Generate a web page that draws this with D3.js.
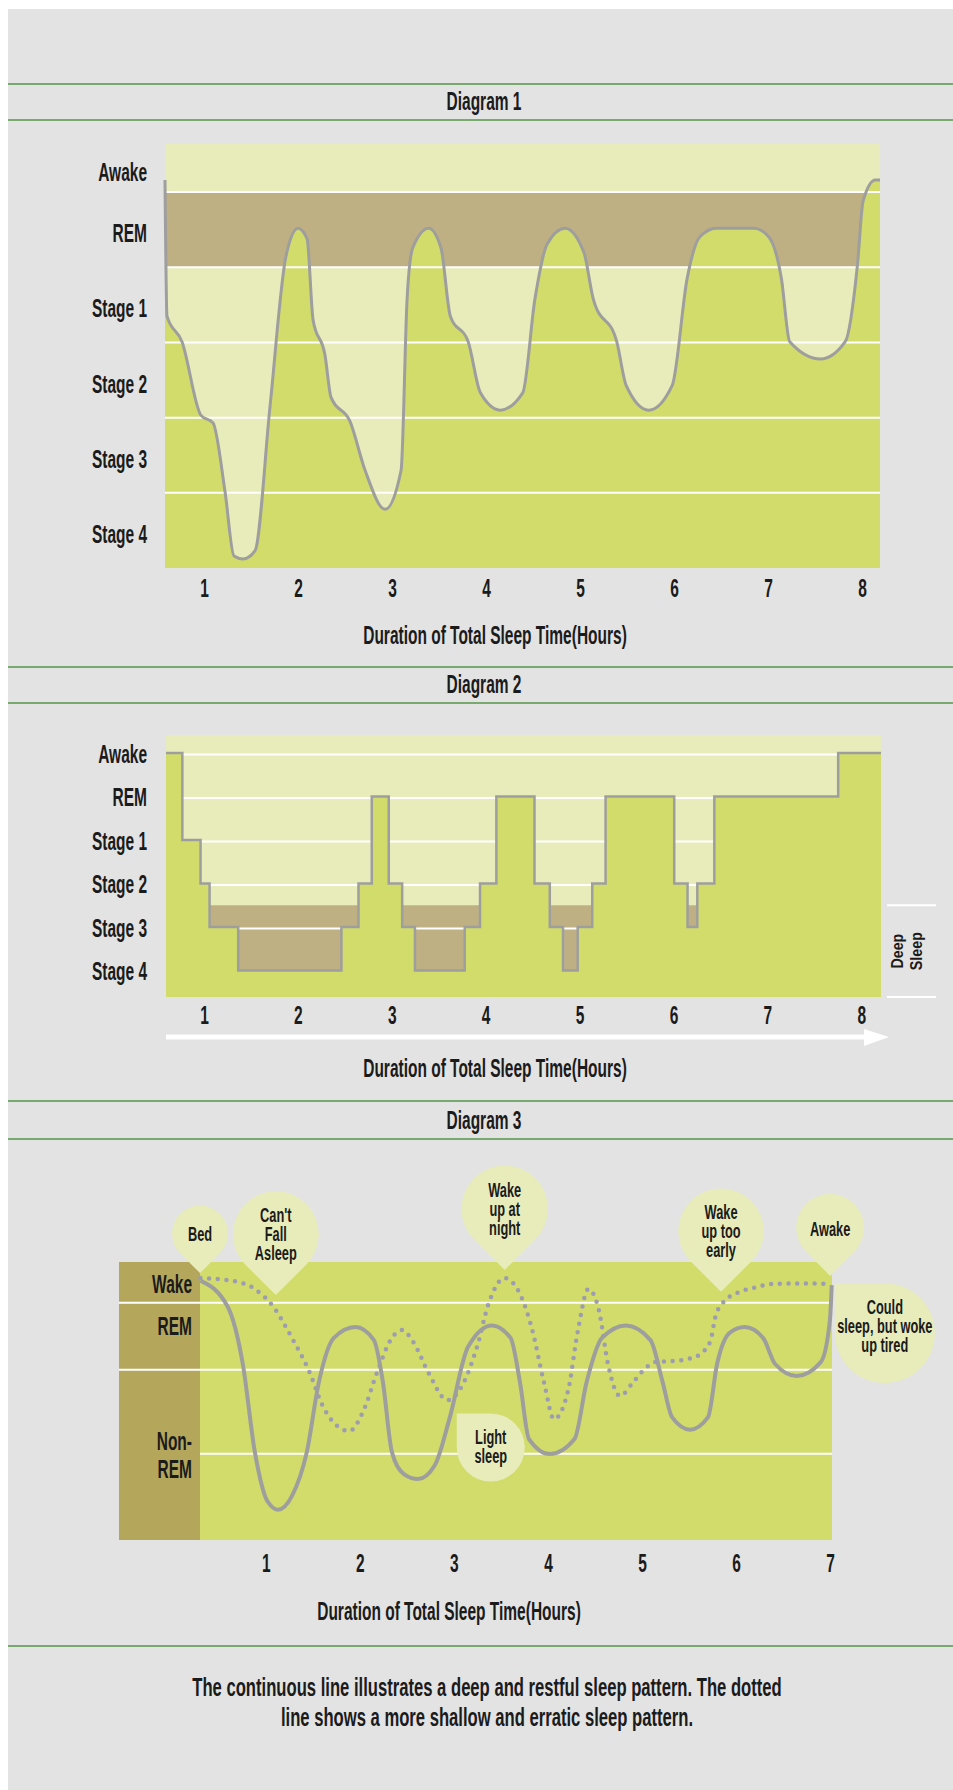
<!DOCTYPE html>
<html>
<head>
<meta charset="utf-8">
<title>Sleep patterns</title>
<script src="https://cdn.jsdelivr.net/npm/d3@7"></script>
<style>
  body { margin: 0; background: #fff; }
  svg { display: block; font-family: "Liberation Sans", Arial, sans-serif; font-weight: bold; }
</style>
</head>
<body>
<div id="container"></div>
<script>
// shared
const stages = ["Awake", "REM", "Stage 1", "Stage 2", "Stage 3", "Stage 4"];
const hourTicks8 = [1, 2, 3, 4, 5, 6, 7, 8];
const hourTicks7 = [1, 2, 3, 4, 5, 6, 7];
const axisTitle = "Duration of Total Sleep Time(Hours)";

// diagram 1: smooth hypnogram, depth 0 = top of REM band ... 5 = bottom of Stage 4
const d1Hours = [0.585, 0.606, 0.766, 0.968, 1.096, 1.223, 1.319, 1.415, 1.543, 1.702, 1.872, 2.0, 2.096, 2.16, 2.287, 2.351, 2.553, 2.713, 2.926, 3.096, 3.16, 3.22, 3.39, 3.52, 3.62, 3.81, 3.94, 4.15, 4.39, 4.52, 4.65, 4.84, 5.04, 5.14, 5.39, 5.49, 5.73, 5.98, 6.14, 6.27, 6.45, 6.85, 7.01, 7.14, 7.23, 7.56, 7.82, 7.95, 8.01, 8.14, 8.19];
const d1Depth = [-0.16, 1.65, 1.99, 2.97, 3.07, 3.98, 4.84, 4.88, 4.77, 2.85, 0.85, 0.48, 0.62, 1.70, 2.17, 2.73, 3.05, 3.70, 4.22, 3.70, 1.42, 0.74, 0.48, 0.74, 1.65, 1.99, 2.67, 2.90, 2.67, 1.42, 0.69, 0.48, 0.80, 1.42, 1.99, 2.57, 2.90, 2.57, 1.14, 0.60, 0.48, 0.48, 0.60, 1.14, 1.99, 2.22, 1.99, 0.97, 0.12, -0.16, -0.16];

// diagram 2: stepped hypnogram, each entry starts a new stage
const d2Hours = [0.596, 0.77, 0.964, 1.06, 1.365, 2.464, 2.646, 2.787, 2.968, 3.111, 3.247, 3.777, 3.94, 4.114, 4.52, 4.683, 4.824, 4.98, 5.135, 5.277, 6.008, 6.15, 6.254, 6.435, 7.754, 8.21];
const d2Stage = ["Awake", "Stage 1", "Stage 2", "Stage 3", "Stage 4", "Stage 3", "Stage 2", "REM", "Stage 2", "Stage 3", "Stage 4", "Stage 3", "Stage 2", "REM", "Stage 2", "Stage 3", "Stage 4", "Stage 3", "Stage 2", "REM", "Stage 2", "Stage 3", "Stage 2", "REM", "Awake", "Awake"];

// diagram 3: depth 0 (top) .. 10 (bottom)
const restfulHours = [0.304, 0.596, 0.755, 0.883, 1.016, 1.128, 1.277, 1.436, 1.564, 1.723, 1.953, 2.149, 2.245, 2.340, 2.468, 2.617, 2.798, 2.957, 3.149, 3.404, 3.602, 3.702, 3.798, 4.021, 4.282, 4.411, 4.574, 4.830, 5.090, 5.219, 5.319, 5.511, 5.702, 5.798, 5.931, 6.093, 6.287, 6.415, 6.643, 6.901, 6.998, 7.017];
const restfulDepth = [0.67, 1.62, 3.67, 6.83, 8.60, 8.91, 8.42, 6.83, 4.32, 2.73, 2.34, 2.81, 4.32, 6.83, 7.63, 7.81, 7.30, 5.58, 3.06, 2.28, 2.73, 4.32, 6.37, 6.91, 6.37, 4.32, 2.73, 2.28, 2.81, 4.32, 5.58, 6.03, 5.58, 3.67, 2.55, 2.34, 2.73, 3.67, 4.10, 3.60, 2.09, 0.83];
const erraticHours = [0.304, 0.628, 0.883, 1.081, 1.277, 1.468, 1.596, 1.760, 1.888, 2.050, 2.181, 2.340, 2.451, 2.568, 2.730, 2.930, 3.053, 3.245, 3.372, 3.538, 3.702, 3.830, 3.957, 4.064, 4.213, 4.314, 4.430, 4.543, 4.638, 4.766, 4.900, 5.010, 5.140, 5.320, 5.490, 5.635, 5.730, 5.780, 5.860, 6.020, 6.200, 6.390, 6.660, 7.000];
const erraticDepth = [0.58, 0.67, 0.97, 1.62, 2.73, 3.99, 5.11, 5.90, 6.08, 5.25, 3.99, 2.73, 2.45, 2.88, 3.99, 4.97, 4.64, 3.06, 1.46, 0.58, 1.15, 2.41, 4.32, 5.65, 4.64, 2.55, 0.97, 1.76, 3.67, 4.82, 4.35, 3.91, 3.60, 3.56, 3.49, 3.27, 2.81, 1.97, 1.47, 1.10, 0.92, 0.79, 0.77, 0.79];
const d3Bands = [1.47, 3.88, 6.9];
const d3Labels = [["Wake"], ["REM"], ["Non-", "REM"]];
const d3LabelDepth = [1.1, 2.63, 6.76];
const noteText = [["Bed"], ["Can't", "Fall", "Asleep"], ["Wake", "up at", "night"], ["Wake", "up too", "early"], ["Awake"], ["Could", "sleep, but woke", "up tired"], ["Light", "sleep"]];
const noteHours = [0.3, 1.106, 3.54, 5.84, 7.0, 7.05, 3.03];
const noteDepth = [0.4, 1.19, 0.29, 1.07, 0.5, 0.76, 5.45];

const footnote = ["The continuous line illustrates a deep and restful sleep pattern. The dotted",
                  "line shows a more shallow and erratic sleep pattern."];

const C = {
  page: "#e3e3e3", pale: "#e8ecbb", green: "#d1dc6a", tan: "#bfb083", olive: "#b4a75b",
  curve: "#9e9e9e", dots: "#9d9cb0", rule: "#79aa6d", ink: "#1b1b1b"
};
const W = 953, H = 1790;
const SX = 0.62;   // squeeze text to a condensed look

const svg = d3.select("#container").append("svg")
  .attr("width", W)
  .attr("height", H);

svg.append("rect").attr("x", 8).attr("y", 9).attr("width", W - 8).attr("height", H - 9).attr("fill", C.page);

[84, 120, 667, 703, 1101, 1139, 1646].forEach(y => {
  svg.append("line").attr("x1", 8).attr("x2", W).attr("y1", y).attr("y2", y)
    .attr("stroke", C.rule).attr("stroke-width", 2);
});

// one text element; an array gives stacked lines (tspans)
function label(g, x, y, str, size = 25, anchor = "middle", sx = SX, lh = 28) {
  const t = g.append("text")
    .attr("transform", `translate(${x},${y}) scale(${sx},1)`)
    .attr("text-anchor", anchor)
    .attr("font-size", size)
    .attr("fill", C.ink);
  if (Array.isArray(str)) {
    str.forEach((s, j) => t.append("tspan").attr("x", 0).attr("y", j * lh).text(s));
  } else {
    t.text(str);
  }
  return t;
}

function styleAxis(a, dy) {
  a.attr("font-family", null).attr("font-size", 25);
  a.select(".domain").remove();
  a.selectAll("text")
    .attr("x", 0).attr("y", dy).attr("dy", null)
    .attr("fill", C.ink)
    .attr("transform", `scale(${SX},1)`);
}

function xAxis(scale, ticks, baseline) {
  const a = svg.append("g").attr("transform", `translate(0,${baseline})`)
    .call(d3.axisBottom(scale).tickValues(ticks).tickSize(0).tickPadding(0).tickFormat(d3.format("d")));
  styleAxis(a, 0);
}

label(svg, 484, 110, "Diagram 1");
label(svg, 484, 693, "Diagram 2");
label(svg, 484, 1129, "Diagram 3");

// ---------- Diagram 1
const x1 = d3.scaleLinear().domain([0.585, 8.19]).range([165, 880]);
const y1 = d3.scaleLinear().domain([-0.64, 5]).range([144, 568]);
const pts1 = d1Hours.map((h, i) => [h, d1Depth[i]]);
const g1 = svg.append("g");

g1.append("rect").attr("x", x1.range()[0]).attr("y", y1.range()[0])
  .attr("width", x1.range()[1] - x1.range()[0]).attr("height", y1.range()[1] - y1.range()[0])
  .attr("fill", C.pale);
g1.append("rect").attr("x", x1.range()[0]).attr("y", y1(0))
  .attr("width", x1.range()[1] - x1.range()[0]).attr("height", y1(1) - y1(0))
  .attr("fill", C.tan);
g1.append("path").datum(pts1)
  .attr("fill", C.green)
  .attr("d", d3.area().x(d => x1(d[0])).y0(y1(5)).y1(d => y1(d[1])).curve(d3.curveMonotoneX));
[0, 1, 2, 3, 4].forEach(v => {
  g1.append("line").attr("x1", x1.range()[0]).attr("x2", x1.range()[1])
    .attr("y1", y1(v)).attr("y2", y1(v)).attr("stroke", "#fff").attr("stroke-width", 2);
});
g1.append("path").datum(pts1)
  .attr("fill", "none").attr("stroke", C.curve).attr("stroke-width", 3)
  .attr("d", d3.line().x(d => x1(d[0])).y(d => y1(d[1])).curve(d3.curveMonotoneX));

const centers1 = stages.map((s, i) => i === 0 ? y1.domain()[0] / 2 : i - 0.5);
const ya1 = g1.append("g").attr("transform", "translate(147,0)")
  .call(d3.axisLeft(y1).tickValues(centers1).tickSize(0).tickPadding(0).tickFormat((d, i) => stages[i]));
styleAxis(ya1, 12);

xAxis(x1, hourTicks8, 597);
label(svg, 495, 644, axisTitle);

// ---------- Diagram 2
const x2 = d3.scaleLinear().domain([0.596, 8.21]).range([166, 881]);
const y2 = d3.scalePoint().domain(stages).range([753, 970.5]);
const top2 = 735, bottom2 = 997;
const deepTop = (y2("Stage 2") + y2("Stage 3")) / 2;
const pts2 = d2Hours.map((h, i) => [h, d2Stage[i]]);
const g2 = svg.append("g");

g2.append("rect").attr("x", x2.range()[0]).attr("y", top2)
  .attr("width", x2.range()[1] - x2.range()[0]).attr("height", bottom2 - top2).attr("fill", C.pale);
g2.append("rect").attr("x", x2.range()[0]).attr("y", deepTop)
  .attr("width", x2.range()[1] - x2.range()[0]).attr("height", bottom2 - deepTop).attr("fill", C.tan);
stages.forEach(s => {
  g2.append("line").attr("x1", x2.range()[0]).attr("x2", x2.range()[1])
    .attr("y1", y2(s) + 1.5).attr("y2", y2(s) + 1.5).attr("stroke", "#fff").attr("stroke-width", 2);
});
g2.append("path").datum(pts2)
  .attr("fill", C.green)
  .attr("d", d3.area().x(d => x2(d[0])).y0(bottom2).y1(d => y2(d[1])).curve(d3.curveStepAfter));
g2.append("path").datum(pts2)
  .attr("fill", "none").attr("stroke", C.curve).attr("stroke-width", 2.5)
  .attr("d", d3.line().x(d => x2(d[0])).y(d => y2(d[1])).curve(d3.curveStepAfter));

const ya2 = g2.append("g").attr("transform", "translate(147,0)")
  .call(d3.axisLeft(y2).tickSize(0).tickPadding(0));
styleAxis(ya2, 9);

// deep sleep bracket
[deepTop, bottom2].forEach(y => {
  g2.append("line").attr("x1", 887).attr("x2", 936).attr("y1", y).attr("y2", y)
    .attr("stroke", "#fff").attr("stroke-width", 2);
});
g2.append("text").attr("transform", `translate(903,${(deepTop + bottom2) / 2}) rotate(-90) scale(0.84,1)`)
  .attr("text-anchor", "middle").attr("font-size", 17).attr("fill", C.ink)
  .selectAll("tspan").data(["Deep", "Sleep"]).join("tspan")
  .attr("x", 0).attr("y", (d, i) => i * 19).text(d => d);

xAxis(x2, hourTicks8, 1024);

// time arrow
g2.append("line").attr("x1", x2.range()[0]).attr("x2", 866).attr("y1", 1037).attr("y2", 1037)
  .attr("stroke", "#fff").attr("stroke-width", 5);
g2.append("path").attr("d", "M864,1029 L889,1037 L864,1046 Z").attr("fill", "#fff");

label(svg, 495, 1077, axisTitle);

// ---------- Diagram 3
const x3 = d3.scaleLinear().domain([0.3, 7.02]).range([200, 832]);
const y3 = d3.scaleLinear().domain([0, 10]).range([1262, 1540]);
const g3 = svg.append("g");
const colLeft = 119;

g3.append("rect").attr("x", colLeft).attr("y", y3(0))
  .attr("width", x3.range()[0] - colLeft).attr("height", y3(10) - y3(0)).attr("fill", C.olive);
g3.append("rect").attr("x", x3.range()[0]).attr("y", y3(0))
  .attr("width", x3.range()[1] - x3.range()[0]).attr("height", y3(10) - y3(0)).attr("fill", C.green);
d3Bands.forEach((v, i) => {
  g3.append("line").attr("x1", i < 2 ? colLeft : x3.range()[0]).attr("x2", x3.range()[1])
    .attr("y1", y3(v)).attr("y2", y3(v)).attr("stroke", "#fff").attr("stroke-width", 2);
});
d3Labels.forEach((lines, i) => label(g3, 192, y3(d3LabelDepth[i]), lines, 25, "end"));

const line3 = d3.line().x(d => x3(d[0])).y(d => y3(d[1])).curve(d3.curveMonotoneX);
g3.append("path").datum(erraticHours.map((h, i) => [h, erraticDepth[i]]))
  .attr("fill", "none").attr("stroke", C.dots).attr("stroke-width", 4.5)
  .attr("stroke-linecap", "round").attr("stroke-dasharray", "0 8.7")
  .attr("d", line3);
g3.append("path").datum(restfulHours.map((h, i) => [h, restfulDepth[i]]))
  .attr("fill", "none").attr("stroke", C.curve).attr("stroke-width", 4)
  .attr("d", line3);

// callout pins: tip sits on the data point
const pinR = [28, 43, 43.3, 42.8, 34, 50, 34];
const pinAngle = [90, 90, 90, 90, 90, 225, 225];
const pinShift = [0, 0, 0, 0, 1.5, -7, -1];
noteText.forEach((lines, i) => {
  const tx = x3(noteHours[i]), ty = y3(noteDepth[i]), r = pinR[i];
  const a = pinAngle[i] * Math.PI / 180;
  const cx = tx - r * Math.SQRT2 * Math.cos(a), cy = ty - r * Math.SQRT2 * Math.sin(a);
  const p1 = [cx + r * Math.cos(a - Math.PI / 4), cy + r * Math.sin(a - Math.PI / 4)];
  const p2 = [cx + r * Math.cos(a + Math.PI / 4), cy + r * Math.sin(a + Math.PI / 4)];
  g3.append("path")
    .attr("d", `M${tx},${ty} L${p2[0]},${p2[1]} A${r},${r} 0 1 1 ${p1[0]},${p1[1]} Z`)
    .attr("fill", C.pale);
  const first = cy + 7 + pinShift[i] - (lines.length - 1) / 2 * 19;
  label(g3, cx, first, lines, 20, "middle", 0.64, 19);
});

xAxis(x3, hourTicks7, 1572);
label(svg, 449, 1620, axisTitle);

label(svg, 487, 1696, footnote, 26, "middle", 0.64, 30);
</script>
</body>
</html>
